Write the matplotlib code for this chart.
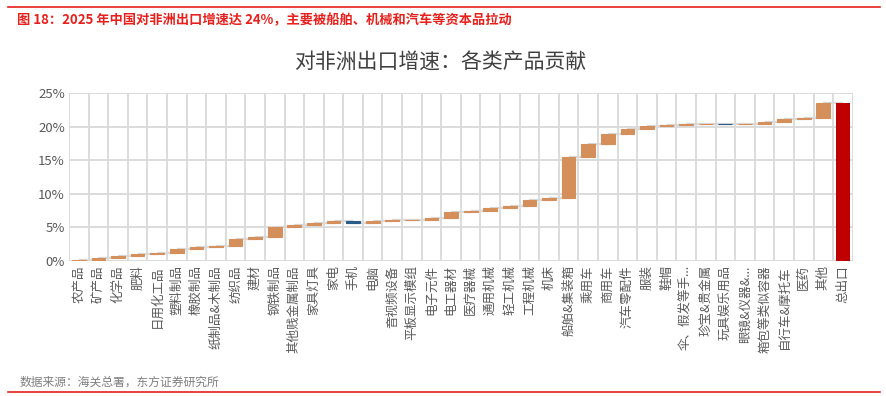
import numpy as np
import matplotlib
matplotlib.use("Agg")
import matplotlib.pyplot as plt

plt.rcParams["font.family"] = ["Noto Sans CJK SC", "DejaVu Sans"]
plt.rcParams["axes.unicode_minus"] = False

# 各类产品对出口增速的贡献(百分点),最后一项为总出口
categories = ["农产品", "矿产品", "化学品", "肥料", "日用化工品", "塑料制品", "橡胶制品",
              "纸制品&木制品", "纺织品", "建材", "钢铁制品", "其他贱金属制品", "家具灯具",
              "家电", "手机", "电脑", "音视频设备", "平板显示模组", "电子元件", "电工器材",
              "医疗器械", "通用机械", "轻工机械", "工程机械", "机床", "船舶&集装箱", "乘用车",
              "商用车", "汽车零配件", "服装", "鞋帽", "伞、假发等手...", "珍宝&贵金属",
              "玩具娱乐用品", "眼镜&仪器&...", "箱包等类似容器", "自行车&摩托车", "医药", "其他"]
contrib = [0.2, 0.2, 0.3, 0.3, 0.2, 0.55, 0.3, 0.25, 1.0, 0.2, 1.6, 0.25, 0.3,
           0.25, -0.2, 0.2, 0.15, 0.1, 0.25, 0.95, 0.15, 0.4, 0.3, 0.9, 0.25, 6.1, 2.0,
           1.5, 0.7, 0.45, 0.2, 0.05, 0.05, -0.05, 0.05, 0.25, 0.45, 0.15, 2.35]
total_label = "总出口"
total_value = 23.6
yticks = [0, 5, 10, 15, 20, 25]

ORANGE = "#D58F5A"
BLUE = "#2B5B87"
RED = "#C00000"
GRID = "#D9D9D9"

fig = plt.figure(figsize=(8.86, 3.96), dpi=100)
ax = fig.add_axes([0.0779, 0.341, 0.8845, 0.4234])

c = np.array(contrib)
ends = np.cumsum(c)
starts = ends - c
n = len(categories)
x = np.arange(n)
labels = categories + [total_label]

# 连接线
levels = list(ends)
for i in range(n):
    ax.plot([i, i + 1], [levels[i], levels[i]], color=GRID, lw=1.6, zorder=2,
            solid_capstyle="butt")

colors = [BLUE if v < 0 else ORANGE for v in c]
ax.bar(x, c, bottom=starts, width=0.7, color=colors, edgecolor=colors, linewidth=0.8, zorder=3)
ax.bar([n], [total_value], width=0.68, color=RED, zorder=3)

ax.set_xlim(-0.5, n + 0.5)
ax.set_ylim(0, 25)
ax.set_yticks(yticks)
ax.set_yticklabels([f"{t}%" for t in yticks], fontsize=9.5, color="#595959")
ax.set_xticks(np.arange(n + 1))
ax.set_xticklabels(labels, rotation=90, fontsize=9, color="#595959", va="top", ha="center")
ax.set_xticks(np.arange(-0.5, n + 1.0, 1), minor=True)
ax.tick_params(axis="both", which="both", length=0, pad=3)
ax.grid(True, axis="y", color=GRID, lw=1.3, zorder=0)
ax.grid(True, axis="x", which="minor", color=GRID, lw=1.3, zorder=0)
ax.grid(False, axis="x", which="major")
for s in ax.spines.values():
    s.set_visible(False)

fig.text(0.497, 0.845, "对非洲出口增速：各类产品贡献", ha="center", va="center",
         fontsize=15, color="#404040")
fig.text(0.019, 0.948, "图 18：2025 年中国对非洲出口增速达 24%，主要被船舶、机械和汽车等资本品拉动",
         ha="left", va="center", fontsize=9.5, color="#E8201C", fontweight="bold")
fig.text(0.022, 0.036, "数据来源：海关总署，东方证券研究所", ha="left", va="center",
         fontsize=8.5, color="#7F7F7F")
fig.add_artist(plt.Line2D([0.009, 0.993], [0.982, 0.982], color="#E8201C", lw=1.2))
fig.add_artist(plt.Line2D([0.009, 0.993], [0.011, 0.011], color="#E8201C", lw=1.2))

fig.savefig("out.png", dpi=100)
